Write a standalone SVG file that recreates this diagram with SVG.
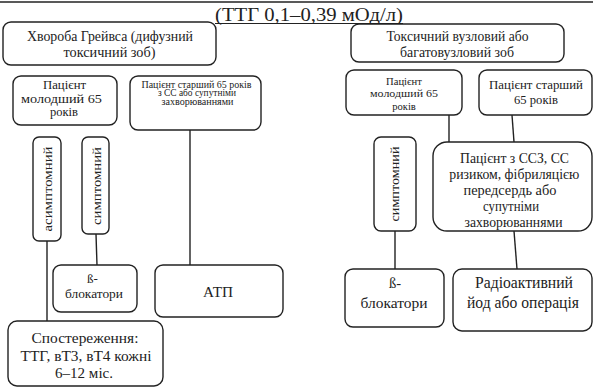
<svg xmlns="http://www.w3.org/2000/svg" width="593" height="387" viewBox="0 0 593 387">
<rect width="593" height="387" fill="#fff"/>
<line x1="0" y1="2" x2="593" y2="2" stroke="#222" stroke-width="1.5"/>
<text x="309" y="21" text-anchor="middle" fill="#222" font-size="18" font-family="Liberation Serif" textLength="188" lengthAdjust="spacingAndGlyphs">(ТТГ 0,1–0,39 мОд/л)</text>
<line x1="215" y1="23.5" x2="403" y2="23.5" stroke="#222" stroke-width="1"/>
<g id="connectors" stroke="#222" stroke-width="1.4" fill="none">
<line x1="190" y1="130" x2="190" y2="265"/>
<line x1="47" y1="241" x2="47" y2="321"/>
<line x1="96" y1="234" x2="97" y2="265"/>
<line x1="449" y1="115" x2="449" y2="142"/>
<line x1="512" y1="115" x2="514" y2="142"/>
<line x1="395" y1="231" x2="395" y2="269"/>
<line x1="514" y1="231" x2="517" y2="269"/>
</g>
<g fill="#fff" stroke="#222" stroke-width="1.4">
<rect id="graves" x="3" y="22" width="213" height="43" rx="8"/>
<rect id="young-left" x="13" y="76" width="104" height="49" rx="8"/>
<rect id="old-left" x="130" y="76" width="131" height="54" rx="8"/>
<rect id="asympt" x="33" y="137" width="28" height="104" rx="6"/>
<rect id="sympt-left" x="82" y="137" width="27" height="97" rx="6"/>
<rect id="beta-left" x="53" y="265" width="84" height="47" rx="8"/>
<rect id="atp" x="155" y="265" width="128" height="52" rx="8"/>
<rect id="observe" x="8" y="321" width="155" height="65" rx="9"/>
<rect id="nodular" x="351" y="24" width="213" height="38" rx="8"/>
<rect id="young-right" x="346" y="70" width="116" height="45" rx="8"/>
<rect id="old-right" x="479" y="70" width="113" height="45" rx="8"/>
<rect id="sympt-right" x="374" y="137" width="42" height="94" rx="7"/>
<rect id="cvd" x="433" y="142" width="159" height="89" rx="14"/>
<rect id="beta-right" x="345" y="269" width="99" height="58" rx="8"/>
<rect id="radio" x="453" y="269" width="139" height="62" rx="9"/>
</g>
<g id="labels" fill="#222" text-anchor="middle">
<text x="110" y="40.5" font-size="13.7" font-family="Liberation Serif" textLength="166" lengthAdjust="spacingAndGlyphs">Хвороба Грейвса (дифузний</text>
<text x="109.5" y="57" font-size="13.7" font-family="Liberation Serif" textLength="92" lengthAdjust="spacingAndGlyphs">токсичний зоб)</text>
<text x="64.5" y="88.5" font-size="12.2" font-family="Liberation Serif" textLength="43" lengthAdjust="spacingAndGlyphs">Пацієнт</text>
<text x="61.5" y="102.5" font-size="12.2" font-family="Liberation Serif" textLength="81" lengthAdjust="spacingAndGlyphs">молодший 65</text>
<text x="64" y="116" font-size="12.2" font-family="Liberation Serif" textLength="28" lengthAdjust="spacingAndGlyphs">років</text>
<text x="196.5" y="87.5" font-size="9.3" font-family="Liberation Serif" textLength="110" lengthAdjust="spacingAndGlyphs">Пацієнт старший  65 років</text>
<text x="197" y="96" font-size="9.3" font-family="Liberation Serif" textLength="78" lengthAdjust="spacingAndGlyphs">з СС або супутніми</text>
<text x="197.5" y="104.5" font-size="9.3" font-family="Liberation Serif" textLength="72" lengthAdjust="spacingAndGlyphs">захворюваннями</text>
<text font-size="13" font-family="Liberation Serif" transform="translate(51.5,189) rotate(-90)" textLength="85" lengthAdjust="spacingAndGlyphs">асимптомний</text>
<text font-size="13.4" font-family="Liberation Serif" transform="translate(100.5,186) rotate(-90)" textLength="78" lengthAdjust="spacingAndGlyphs">симптомний</text>
<text x="92.5" y="283" font-size="13" font-family="Liberation Serif">ß-</text>
<text x="94" y="298" font-size="13" font-family="Liberation Serif" textLength="58" lengthAdjust="spacingAndGlyphs">блокатори</text>
<text x="218" y="296.5" font-size="15.5" font-family="Liberation Serif" textLength="30" lengthAdjust="spacingAndGlyphs">АТП</text>
<text x="85" y="343" font-size="15.4" font-family="Liberation Serif" textLength="107" lengthAdjust="spacingAndGlyphs">Спостереження:</text>
<text x="86" y="361" font-size="15.4" font-family="Liberation Serif" textLength="131" lengthAdjust="spacingAndGlyphs">ТТГ, вТ3, вТ4 кожні</text>
<text x="84" y="378" font-size="15.4" font-family="Liberation Serif" textLength="58" lengthAdjust="spacingAndGlyphs">6–12 міс.</text>
<text x="457.5" y="40.5" font-size="13.6" font-family="Liberation Serif" textLength="142" lengthAdjust="spacingAndGlyphs">Токсичний вузловий або</text>
<text x="457" y="57" font-size="13.6" font-family="Liberation Serif" textLength="114" lengthAdjust="spacingAndGlyphs">багатовузловий зоб</text>
<text x="404" y="84.5" font-size="10.6" font-family="Liberation Serif">Пацієнт</text>
<text x="404" y="97" font-size="10.6" font-family="Liberation Serif" textLength="68" lengthAdjust="spacingAndGlyphs">молодший 65</text>
<text x="404" y="109.5" font-size="10.6" font-family="Liberation Serif">років</text>
<text x="536" y="89" font-size="12.1" font-family="Liberation Serif" textLength="94" lengthAdjust="spacingAndGlyphs">Пацієнт старший</text>
<text x="536" y="104" font-size="12.1" font-family="Liberation Serif" textLength="44" lengthAdjust="spacingAndGlyphs">65 років</text>
<text font-size="12.9" font-family="Liberation Serif" transform="translate(398.5,184) rotate(-90)" textLength="75" lengthAdjust="spacingAndGlyphs">симптомний</text>
<text x="514.5" y="162.5" font-size="14" font-family="Liberation Serif" textLength="109" lengthAdjust="spacingAndGlyphs">Пацієнт з ССЗ, СС</text>
<text x="514.3" y="178.5" font-size="14" font-family="Liberation Serif" textLength="130" lengthAdjust="spacingAndGlyphs">ризиком, фібриляцією</text>
<text x="510" y="194.5" font-size="14" font-family="Liberation Serif" textLength="93" lengthAdjust="spacingAndGlyphs">передсердь або</text>
<text x="511" y="210.5" font-size="14" font-family="Liberation Serif" textLength="56" lengthAdjust="spacingAndGlyphs">супутніми</text>
<text x="513.5" y="226.5" font-size="14" font-family="Liberation Serif" textLength="98" lengthAdjust="spacingAndGlyphs">захворюваннями</text>
<text x="395" y="288" font-size="14.6" font-family="Liberation Serif">ß-</text>
<text x="394" y="308" font-size="14.6" font-family="Liberation Serif" textLength="67" lengthAdjust="spacingAndGlyphs">блокатори</text>
<text x="524" y="288" font-size="16" font-family="Liberation Serif" textLength="98" lengthAdjust="spacingAndGlyphs">Радіоактивний</text>
<text x="523" y="308" font-size="16" font-family="Liberation Serif" textLength="112" lengthAdjust="spacingAndGlyphs">йод або операція</text>
</g>
</svg>
